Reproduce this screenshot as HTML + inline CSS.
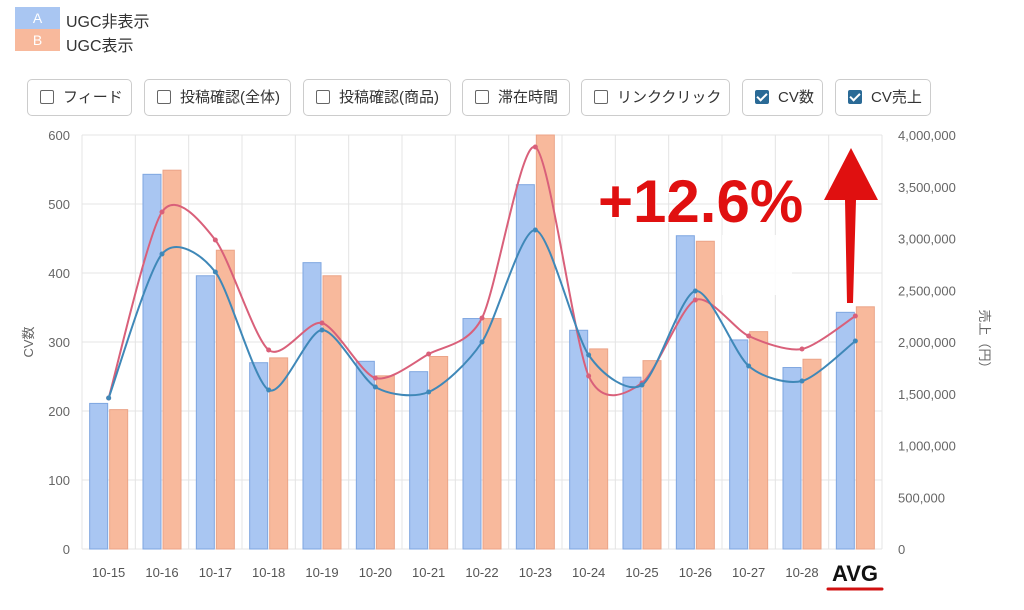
<!DOCTYPE html>
<html><head><meta charset="utf-8"><style>
body{margin:0;width:1024px;height:610px;background:#fff;font-family:"Liberation Sans","Noto Sans CJK JP",sans-serif;overflow:hidden;position:relative}
.lg{position:absolute;left:15px;width:45px;height:22px;color:#fff;font-size:14px;text-align:center;line-height:22px}
.lgt{position:absolute;left:66px;font-size:16px;color:#333}
.btn{position:absolute;top:79px;height:37px;border:1px solid #ccc;border-radius:5px;box-sizing:border-box;font-size:15px;color:#333;line-height:35px;padding-left:12px;background:#fff}
.cb{display:inline-block;width:14px;height:14px;border:1px solid #666;border-radius:2px;vertical-align:-2px;margin-right:9px;box-sizing:border-box}
.cb.on{background:#2a6a96;border-color:#2a6a96;position:relative}
.cb.on:after{content:"";position:absolute;left:3px;top:0px;width:4px;height:8px;border:solid #fff;border-width:0 2px 2px 0;transform:rotate(45deg)}
</style></head><body>
<div class="lg" style="top:7px;background:#a9c6f2">A</div>
<div class="lg" style="top:29px;background:#f8b99c">B</div>
<div class="lgt" style="top:8px">UGC非表示</div>
<div class="lgt" style="top:32px">UGC表示</div>
<div class="btn" style="left:27px;width:105px"><span class="cb"></span>フィード</div>
<div class="btn" style="left:144px;width:147px"><span class="cb"></span>投稿確認(全体)</div>
<div class="btn" style="left:303px;width:148px"><span class="cb"></span>投稿確認(商品)</div>
<div class="btn" style="left:462px;width:108px"><span class="cb"></span>滞在時間</div>
<div class="btn" style="left:581px;width:149px"><span class="cb"></span>リンククリック</div>
<div class="btn" style="left:742px;width:81px"><span class="cb on"></span>CV数</div>
<div class="btn" style="left:835px;width:96px"><span class="cb on"></span>CV売上</div>
<svg id="s" width="1024" height="610" style="position:absolute;left:0;top:0"></svg>
<script>
var s='',L=82,R=882,T=135,B=549,W=(R-L)/15;
function y(v){return B-(B-T)*v/600}
for(var i=0;i<=6;i++){var yy=y(i*100);s+='<line x1="'+L+'" x2="'+R+'" y1="'+yy+'" y2="'+yy+'" stroke="#e4e4e4"/>';s+='<text x="70" y="'+(yy+5)+'" font-size="13" fill="#666" text-anchor="end">'+i*100+'</text>';}
for(var i=0;i<=8;i++){var yy=B-(B-T)*i/8;s+='<text x="898" y="'+(yy+5)+'" font-size="13" fill="#666">'+(i==0?'0':(i*500000).toLocaleString('en-US'))+'</text>';}
for(var i=0;i<=15;i++){var x=L+W*i;s+='<line x1="'+x+'" x2="'+x+'" y1="'+T+'" y2="'+B+'" stroke="#e4e4e4"/>';}
var a=[211,543,396,270,415,272,257,334,528,317,249,454,303,263,343],b=[202,549,433,277,396,251,279,334,600,290,273,446,315,275,351];
var la=[398,254,272,390,330,387,392,342,230,355,385,291,366,381,341],lb=[398,212,240,350,323,378,354,318,147,376,383,300,336,349,316];
for(var i=0;i<15;i++){var c=L+W*(i+.5);
s+='<rect x="'+(c-19)+'" y="'+y(a[i])+'" width="18" height="'+(B-y(a[i]))+'" fill="#a9c6f2" stroke="#7ea6e0"/>';
s+='<rect x="'+(c+1)+'" y="'+y(b[i])+'" width="18" height="'+(B-y(b[i]))+'" fill="#f8b99c" stroke="#eba488"/>';
var lab=i<14?'10-'+(15+i):'';
if(lab)s+='<text x="'+c+'" y="577" font-size="13" fill="#555" text-anchor="middle">'+lab+'</text>';}
function path(p,col){var pts=p.map(function(v,i){return[L+W*(i+.5),v]});var d='M'+pts[0],k=7.5;
for(var i=0;i<pts.length-1;i++){var p0=pts[Math.max(0,i-1)],p1=pts[i],p2=pts[i+1],p3=pts[Math.min(pts.length-1,i+2)];
d+=' C'+(p1[0]+(p2[0]-p0[0])/k)+','+(p1[1]+(p2[1]-p0[1])/k)+' '+(p2[0]-(p3[0]-p1[0])/k)+','+(p2[1]-(p3[1]-p1[1])/k)+' '+p2;}
var r='<path d="'+d+'" fill="none" stroke="'+col+'" stroke-width="2"/>';pts.forEach(function(q){r+='<circle cx="'+q[0]+'" cy="'+q[1]+'" r="2.5" fill="'+col+'"/>'});return r;}
s+=path(lb,'#d9607a')+path(la,'#3f88b8');
s+='<text x="33" y="342" font-size="13" fill="#666" transform="rotate(-90 33 342)" text-anchor="middle">CV数</text>';
s+='<text x="980" y="342" font-size="13" fill="#666" transform="rotate(90 980 342)" text-anchor="middle">売上（円）</text>';
s+='<text x="855" y="581" font-size="22" font-weight="bold" fill="#111" text-anchor="middle">AVG</text>';
s+='<line x1="828" x2="882" y1="589" y2="589" stroke="#d01010" stroke-width="3" stroke-linecap="round"/>';
s+='<rect x="722" y="235" width="70" height="60" fill="#fff" opacity="0.85"/>';
s+='<text x="598" y="222" font-size="60" font-weight="bold" fill="#e01010" stroke="#fff" stroke-width="2" paint-order="stroke">+12.6%</text>';
s+='<polygon points="847,303 853,303 856,200 878,200 851,148 824,200 845,200" fill="#e01010"/>';
document.getElementById('s').innerHTML=s;
</script>
</body></html>
